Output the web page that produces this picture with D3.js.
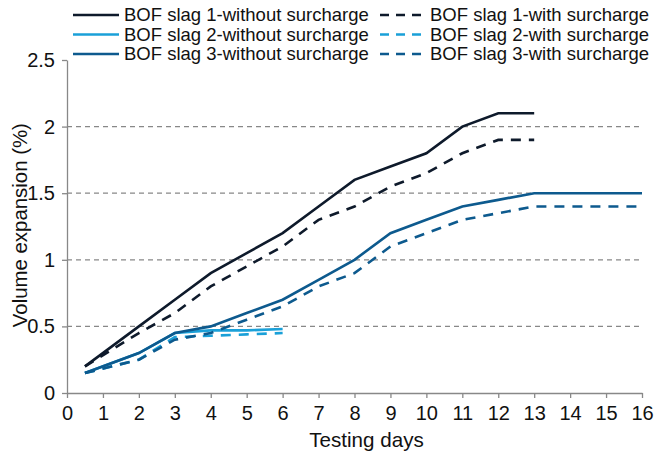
<!DOCTYPE html>
<html>
<head>
<meta charset="utf-8">
<script src="https://cdn.jsdelivr.net/npm/d3@7"></script>
<style>
  html, body { margin: 0; padding: 0; background: #fff; }
  text { font-family: "Liberation Sans", Arial, sans-serif; fill: #111; }
</style>
</head>
<body>
<div id="chart"></div>
<script>
// data
const days = [0.5, 2, 3, 4, 5, 6, 7, 8, 9, 10, 11, 12, 13, 14, 15, 16];

const slag1Without = [0.2, 0.5, 0.7, 0.9, 1.05, 1.2, 1.4, 1.6, 1.7, 1.8, 2.0, 2.1, 2.1, null, null, null];
const slag1With    = [0.2, 0.45, 0.6, 0.8, 0.95, 1.1, 1.3, 1.4, 1.55, 1.65, 1.8, 1.9, 1.9, null, null, null];
const slag2Without = [0.15, 0.3, 0.45, 0.47, 0.47, 0.48, null, null, null, null, null, null, null, null, null, null];
const slag2With    = [0.15, 0.25, 0.42, 0.43, 0.44, 0.45, null, null, null, null, null, null, null, null, null, null];
const slag3Without = [0.15, 0.3, 0.45, 0.5, 0.6, 0.7, 0.85, 1.0, 1.2, 1.3, 1.4, 1.45, 1.5, 1.5, 1.5, 1.5];
const slag3With    = [0.15, 0.25, 0.4, 0.45, 0.55, 0.65, 0.8, 0.9, 1.1, 1.2, 1.3, 1.35, 1.4, 1.4, 1.4, 1.4];

const xTicks = d3.range(0, 17);
const yTicks = [0, 0.5, 1, 1.5, 2, 2.5];

const colors = { slag1: "#0e1a2b", slag2: "#1aa0d8", slag3: "#0d5a8e" };

// drawing order: slag 2 sits under slag 3
const series = [
  { name: "BOF slag 1-without surcharge", values: slag1Without, color: colors.slag1, dashed: false },
  { name: "BOF slag 1-with surcharge", values: slag1With, color: colors.slag1, dashed: true },
  { name: "BOF slag 2-without surcharge", values: slag2Without, color: colors.slag2, dashed: false },
  { name: "BOF slag 2-with surcharge", values: slag2With, color: colors.slag2, dashed: true },
  { name: "BOF slag 3-without surcharge", values: slag3Without, color: colors.slag3, dashed: false },
  { name: "BOF slag 3-with surcharge", values: slag3With, color: colors.slag3, dashed: true }
];

const width = 657;
const height = 455;
const margin = { top: 60, right: 15, bottom: 62, left: 67 };

const svg = d3.select("#chart")
  .append("svg")
  .attr("width", width)
  .attr("height", height);

const x = d3.scaleLinear().domain([0, 16]).range([margin.left, width - margin.right]);
const y = d3.scaleLinear().domain([0, 2.5]).range([height - margin.bottom, margin.top]);

// gridlines
svg.append("g")
  .selectAll("line")
  .data(yTicks.filter(v => v > 0 && v < 2.5))
  .join("line")
  .attr("x1", x(0))
  .attr("x2", x(16))
  .attr("y1", d => y(d))
  .attr("y2", d => y(d))
  .attr("stroke", "#888")
  .attr("stroke-width", 1.3)
  .attr("stroke-dasharray", "5,4");

// axes
const xAxis = svg.append("g")
  .attr("transform", `translate(0,${y(0)})`)
  .call(d3.axisBottom(x).tickValues(xTicks).tickFormat(d3.format("d")).tickSize(5).tickSizeOuter(0).tickPadding(8));

const yAxis = svg.append("g")
  .attr("transform", `translate(${x(0)},0)`)
  .call(d3.axisLeft(y).tickValues(yTicks).tickFormat(d => d).tickSize(5).tickSizeOuter(0).tickPadding(7));

[xAxis, yAxis].forEach(a => {
  a.select(".domain").attr("stroke", "#888").attr("stroke-width", 1.3);
  a.selectAll(".tick line").attr("stroke", "#888").attr("stroke-width", 1.3);
  a.selectAll(".tick text")
    .attr("font-family", "Liberation Sans, Arial, sans-serif")
    .attr("font-size", 20)
    .attr("fill", "#111");
});

// axis titles
svg.append("text")
  .attr("x", (x(0) + x(16)) / 2 + 12)
  .attr("y", 447)
  .attr("text-anchor", "middle")
  .attr("font-size", 20.6)
  .text("Testing days");

svg.append("text")
  .attr("transform", `translate(27,${y(1.26)}) rotate(-90)`)
  .attr("text-anchor", "middle")
  .attr("font-size", 20.4)
  .text("Volume expansion (%)");

// lines
const line = d3.line()
  .defined(d => d[1] != null)
  .x(d => x(d[0]))
  .y(d => y(d[1]));

svg.append("g")
  .attr("fill", "none")
  .selectAll("path")
  .data(series)
  .join("path")
  .attr("d", s => line(days.map((d, i) => [d, s.values[i]])))
  .attr("stroke", s => s.color)
  .attr("stroke-width", 2.6)
  .attr("stroke-dasharray", s => s.dashed ? "10,8" : null);

// legend: two columns, three rows
const legendRows = [0, 1, 2];
const legend = svg.append("g");

legendRows.forEach(r => {
  const solid = series[r * 2];
  const dash = series[r * 2 + 1];
  const yy = 15 + r * 19.5;

  legend.append("line")
    .attr("x1", 73).attr("x2", 119)
    .attr("y1", yy).attr("y2", yy)
    .attr("stroke", solid.color)
    .attr("stroke-width", 2.6);
  legend.append("text")
    .attr("x", 124).attr("y", yy)
    .attr("dy", "0.35em")
    .attr("font-size", 18.5)
    .text(solid.name);

  legend.append("line")
    .attr("x1", 380).attr("x2", 428)
    .attr("y1", yy).attr("y2", yy)
    .attr("stroke", dash.color)
    .attr("stroke-width", 2.6)
    .attr("stroke-dasharray", "9,7");
  legend.append("text")
    .attr("x", 430).attr("y", yy)
    .attr("dy", "0.35em")
    .attr("font-size", 18.5)
    .text(dash.name);
});
</script>
</body>
</html>
